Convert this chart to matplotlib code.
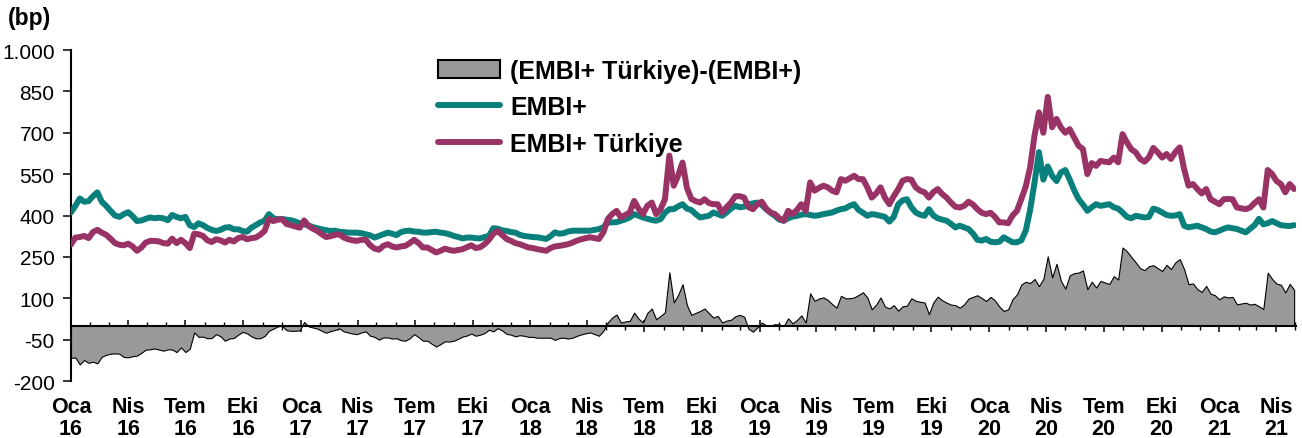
import numpy as np
import pandas as pd
import matplotlib
matplotlib.use("Agg")
import matplotlib.pyplot as plt
import matplotlib.dates as mdates
from matplotlib import font_manager
from matplotlib.patches import Patch
from matplotlib.lines import Line2D

# haftalik veriler (bp), 1 Ocak 2016'dan itibaren her cuma
embi16 = [411, 435, 462, 450, 452, 470, 484, 450, 435, 417,
          400, 395, 405, 412, 398, 380, 382, 388, 393, 390,
          392, 390, 383, 402, 395, 390, 395, 365, 358, 372,
          365, 355, 348, 344, 348, 356, 358, 350, 350, 344,
          341, 356, 365, 375, 381, 405, 390, 387, 387, 385,
          383, 378, 372]
embi17 = [368, 364, 358, 354, 350, 347, 344, 345, 341, 340,
          338, 338, 338, 336, 332, 328, 320, 326, 332, 338,
          334, 329, 340, 344, 345, 342, 341, 338, 338, 340,
          341, 338, 336, 332, 326, 322, 317, 320, 320, 318,
          317, 322, 326, 354, 352, 346, 344, 340, 338, 330,
          326, 324]
embi18 = [322, 321, 318, 315, 325, 339, 334, 336, 342, 345,
          345, 345, 345, 345, 348, 351, 357, 375, 375, 376,
          381, 386, 393, 405, 399, 393, 388, 384, 381, 387,
          410, 423, 423, 433, 441, 425, 420, 405, 393, 396,
          399, 411, 405, 399, 411, 425, 435, 430, 432, 441,
          444, 447]
embi19 = [438, 423, 410, 399, 385, 381, 390, 396, 399, 403,
          405, 402, 399, 401, 405, 408, 411, 418, 423, 426,
          435, 441, 420, 410, 399, 405, 403, 399, 395, 378,
          395, 440, 455, 459, 430, 411, 403, 399, 423, 400,
          390, 385, 381, 370, 357, 363, 357, 351, 335, 312,
          309, 315]
embi20 = [305, 303, 305, 321, 312, 303, 303, 310, 345, 420,
          520, 630, 530, 578, 544, 525, 556, 565, 530, 492,
          460, 440, 417, 430, 441, 435, 438, 441, 430, 425,
          411, 395, 390, 399, 396, 393, 395, 425, 420, 411,
          402, 399, 400, 405, 363, 357, 360, 363, 357, 351,
          342, 339]
embi21 = [345, 352, 357, 354, 351, 345, 339, 352, 365, 388,
          368, 372, 380, 372, 365, 363, 362, 365]

tr16 = [295, 320, 322, 326, 318, 340, 348, 338, 330, 316,
        300, 294, 292, 298, 288, 272, 284, 302, 308, 308,
        306, 300, 298, 316, 300, 312, 300, 282, 334, 332,
        326, 310, 304, 314, 310, 302, 312, 306, 318, 322,
        314, 318, 320, 330, 344, 387, 380, 385, 387, 369,
        365, 360, 356]
tr17 = [382, 362, 352, 344, 332, 322, 325, 330, 332, 320,
        314, 310, 308, 312, 312, 292, 280, 276, 290, 296,
        288, 284, 288, 290, 300, 312, 300, 284, 284, 275,
        266, 272, 280, 275, 272, 275, 278, 285, 292, 282,
        285, 296, 312, 334, 344, 329, 315, 308, 300, 296,
        290, 284]
tr18 = [282, 278, 275, 272, 282, 288, 290, 293, 296, 302,
        309, 314, 318, 321, 318, 315, 339, 387, 405, 417,
        393, 402, 411, 453, 425, 405, 435, 447, 405, 423,
        459, 617, 508, 545, 592, 500, 460, 452, 447, 459,
        445, 441, 441, 411, 430, 447, 470, 470, 465, 430,
        423, 441]
tr19 = [450, 425, 411, 405, 390, 381, 417, 405, 420, 441,
        417, 520, 490, 500, 508, 502, 490, 484, 532, 526,
        535, 544, 532, 532, 502, 465, 480, 502, 465, 441,
        470, 495, 526, 532, 530, 502, 490, 484, 465, 485,
        496, 478, 465, 447, 432, 429, 435, 450, 440, 423,
        410, 405]
tr20 = [410, 395, 375, 375, 372, 400, 417, 460, 505, 575,
        690, 774, 700, 830, 720, 750, 719, 700, 713, 683,
        653, 641, 550, 590, 580, 598, 595, 593, 610, 593,
        695, 665, 640, 629, 605, 595, 611, 645, 629, 610,
        623, 605, 630, 647, 568, 508, 514, 496, 480, 496,
        459, 450]
tr21 = [441, 459, 460, 459, 429, 426, 423, 429, 445, 459,
        429, 565, 550, 525, 514, 484, 514, 496]

embi = np.array(embi16 + embi17 + embi18 + embi19 + embi20 + embi21)
turkiye = np.array(tr16 + tr17 + tr18 + tr19 + tr20 + tr21)
fark = turkiye - embi
tarih = pd.date_range("2016-01-01", periods=len(embi), freq="W-FRI")

aylar = {1: "Oca", 4: "Nis", 7: "Tem", 10: "Eki"}
ceyrekler = pd.date_range("2016-01-01", "2021-04-01", freq="QS")
etiketler = [f"{aylar[d.month]}\n{d:%y}" for d in ceyrekler]
y_tikler = [-200, -50, 100, 250, 400, 550, 700, 850, 1000]

teal = "#0a807c"
mor = "#993366"
gri = "#999999"

isimler = {f.name for f in font_manager.fontManager.ttflist}
dar = "Liberation Sans Narrow" if "Liberation Sans Narrow" in isimler else "Liberation Sans"
plt.rcParams["font.family"] = [dar, "DejaVu Sans"]

fig = plt.figure(figsize=(13.02, 4.39), dpi=100)
ax = fig.add_axes([0.0545, 0.1298, 0.9409, 0.754])

ax.fill_between(tarih, 0, fark, facecolor=gri, edgecolor="black", linewidth=0.8, zorder=2)
ax.plot(tarih, embi, color=teal, lw=4.3, zorder=3, solid_capstyle="round", solid_joinstyle="round")
ax.plot(tarih, turkiye, color=mor, lw=4.3, zorder=3.1, solid_capstyle="round", solid_joinstyle="round")

ax.set_ylim(-200, 1000)
ax.set_xlim(pd.Timestamp("2016-01-01"), pd.Timestamp("2021-05-03"))
ax.set_yticks(y_tikler)
ax.yaxis.set_major_formatter(plt.FuncFormatter(lambda v, p: f"{v:,.0f}".replace(",", ".")))
ax.tick_params(axis="y", direction="out", length=5.8, width=1.1, pad=6, labelsize=15)

ax.spines["top"].set_visible(False)
ax.spines["right"].set_visible(False)
ax.spines["left"].set_linewidth(1.5)
ax.spines["bottom"].set_position(("data", 0))
ax.spines["bottom"].set_linewidth(1.5)

ax.set_xticks(ceyrekler)
ax.set_xticklabels(etiketler, fontweight="bold", fontsize=15.5, linespacing=1.05)
ax.xaxis.set_minor_locator(mdates.MonthLocator())
ax.tick_params(axis="x", which="major", direction="inout", length=8.6, width=1.1, pad=46)
ax.tick_params(axis="x", which="minor", direction="inout", length=5.8, width=1.0)

fig.text(0.006, 0.985, "(bp)", fontsize=16.5, fontweight="bold", va="top", ha="left")

tutamaklar = [Patch(facecolor=gri, edgecolor="black", linewidth=1.5),
              Line2D([], [], color=teal, lw=4.3, solid_capstyle="round"),
              Line2D([], [], color=mor, lw=4.3, solid_capstyle="round")]
isim = ["(EMBI+ Türkiye)-(EMBI+)", "EMBI+", "EMBI+ Türkiye"]
ax.legend(tutamaklar, isim, loc="upper left", bbox_to_anchor=(0.3364, 0.864),
          bbox_transform=fig.transFigure, frameon=False, borderpad=0, borderaxespad=0,
          handlelength=2.5, handletextpad=0.4, labelspacing=0.5,
          prop={"weight": "bold", "size": 18})

fig.savefig("out.png", dpi=100)
